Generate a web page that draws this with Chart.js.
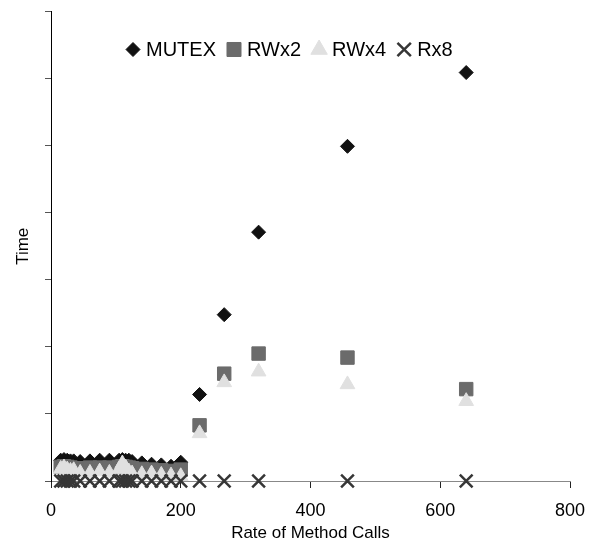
<!DOCTYPE html>
<html>
<head>
<meta charset="utf-8">
<script src="https://cdn.jsdelivr.net/npm/chart.js@4"></script>
<style>
html,body{margin:0;padding:0;background:#ffffff;}
#wrap{width:601px;height:546px;}
</style>
</head>
<body>
<div id="wrap"><canvas id="c" width="601" height="546"></canvas></div>
<script>
// ---- data ----
const rates = [15, 20, 25, 30, 35, 45, 60, 75, 90, 105, 110, 115, 120, 125, 140, 155, 170, 185, 200, 229, 267, 320, 457, 640];
const mutex = [0.31, 0.32, 0.31, 0.30, 0.30, 0.29, 0.30, 0.31, 0.31, 0.31, 0.32, 0.31, 0.31, 0.29, 0.27, 0.25, 0.24, 0.22, 0.28, 1.29, 2.48, 3.71, 4.99, 6.09];
const rwx2  = [0.21, 0.22, 0.21, 0.20, 0.19, 0.19, 0.20, 0.20, 0.20, 0.21, 0.22, 0.21, 0.20, 0.19, 0.18, 0.17, 0.16, 0.15, 0.17, 0.83, 1.60, 1.90, 1.84, 1.37];
const rwx4  = [0.18, 0.20, 0.17, 0.15, 0.16, 0.12, 0.12, 0.14, 0.12, 0.17, 0.26, 0.20, 0.14, 0.11, 0.10, 0.11, 0.09, 0.08, 0.07, 0.71, 1.47, 1.63, 1.44, 1.19];
const rx8   = [0, 0, 0, 0, 0, 0, 0, 0, 0, 0, 0, 0, 0, 0, 0, 0, 0, 0, 0, 0, 0, 0, 0, 0];
const seriesNames = ['MUTEX', 'RWx2', 'RWx4', 'Rx8'];
const xTickValues = [0, 200, 400, 600, 800];
const yTickValues = [0, 1, 2, 3, 4, 5, 6, 7];
const xTitle = 'Rate of Method Calls';
const yTitle = 'Time';

const FONT = '"Liberation Sans", Arial, sans-serif';
const toPts = (ys) => rates.map((x, i) => ({x: x, y: ys[i]}));

const datasets = [
  {label: seriesNames[0], data: toPts(mutex), pointStyle: 'rectRot', pointRadius: 7, backgroundColor: '#111111', borderColor: '#111111', borderWidth: 1, order: 4},
  {label: seriesNames[1], data: toPts(rwx2), pointStyle: 'rect', pointRadius: 9.5, backgroundColor: '#6b6b6b', borderColor: '#6b6b6b', borderWidth: 1, order: 3},
  {label: seriesNames[2], data: toPts(rwx4), pointStyle: 'triangle', pointRadius: 8.5, backgroundColor: '#e0e0e0', borderColor: '#e0e0e0', borderWidth: 1, order: 2},
  {label: seriesNames[3], data: toPts(rx8), pointStyle: 'crossRot', pointRadius: 9, backgroundColor: '#363636', borderColor: '#363636', borderWidth: 2.5, order: 1}
].map(d => Object.assign(d, {clip: false, pointHoverRadius: d.pointRadius, showLine: false}));

// Legend drawn inside the plot area along its top (as in the reference)
const legendRadius = [7, 9.9, 9.5, 9.5];
const insideLegend = {
  id: 'insideLegend',
  afterDraw(chart) {
    const ctx = chart.ctx;
    const area = chart.chartArea;
    ctx.save();
    ctx.font = '20px ' + FONT;
    ctx.textBaseline = 'middle';
    ctx.textAlign = 'left';
    let x = area.left + 75;
    const y = area.top + 38;
    chart.data.datasets.forEach((ds, i) => {
      ctx.fillStyle = ds.backgroundColor;
      ctx.strokeStyle = ds.borderColor;
      ctx.lineWidth = ds.borderWidth;
      Chart.helpers.drawPoint(ctx, {pointStyle: ds.pointStyle, radius: legendRadius[i], rotation: 0, borderWidth: ds.borderWidth}, x + 7, y);
      ctx.fillStyle = '#000';
      ctx.fillText(ds.label, x + 20, y + 1);
      x += 20 + ctx.measureText(ds.label).width + 11;
    });
    ctx.restore();
  }
};

new Chart(document.getElementById('c'), {
  type: 'scatter',
  data: {datasets: datasets},
  plugins: [insideLegend],
  options: {
    responsive: false,
    animation: false,
    devicePixelRatio: 1,
    layout: {padding: {left: 0, right: 31, top: 10, bottom: 0}},
    plugins: {
      tooltip: {enabled: false},
      legend: {display: false}
    },
    scales: {
      x: {
        type: 'linear',
        min: 0, max: 800,
        afterFit: (s) => { s.height = 65; },
        afterBuildTicks: (s) => { s.ticks = xTickValues.map(v => ({value: v})); },
        grid: {drawOnChartArea: false, tickLength: 7, tickColor: '#222', tickWidth: 1},
        border: {color: '#888888', width: 1},
        ticks: {color: '#000', font: {family: FONT, size: 18}, padding: 12, maxRotation: 0, autoSkip: false},
        title: {display: true, text: xTitle, color: '#000', font: {family: FONT, size: 17}, padding: {top: 0, bottom: 2}}
      },
      y: {
        type: 'linear',
        min: 0, max: 7,
        afterFit: (s) => { s.width = 51; },
        afterBuildTicks: (s) => { s.ticks = yTickValues.map(v => ({value: v})); },
        grid: {drawOnChartArea: false, tickLength: 6, tickColor: '#555', tickWidth: 1},
        border: {color: '#000', width: 1},
        ticks: {display: false},
        title: {display: true, text: yTitle, color: '#000', font: {family: FONT, size: 17}, padding: {top: 13, bottom: 0}}
      }
    }
  }
});
</script>
</body>
</html>
